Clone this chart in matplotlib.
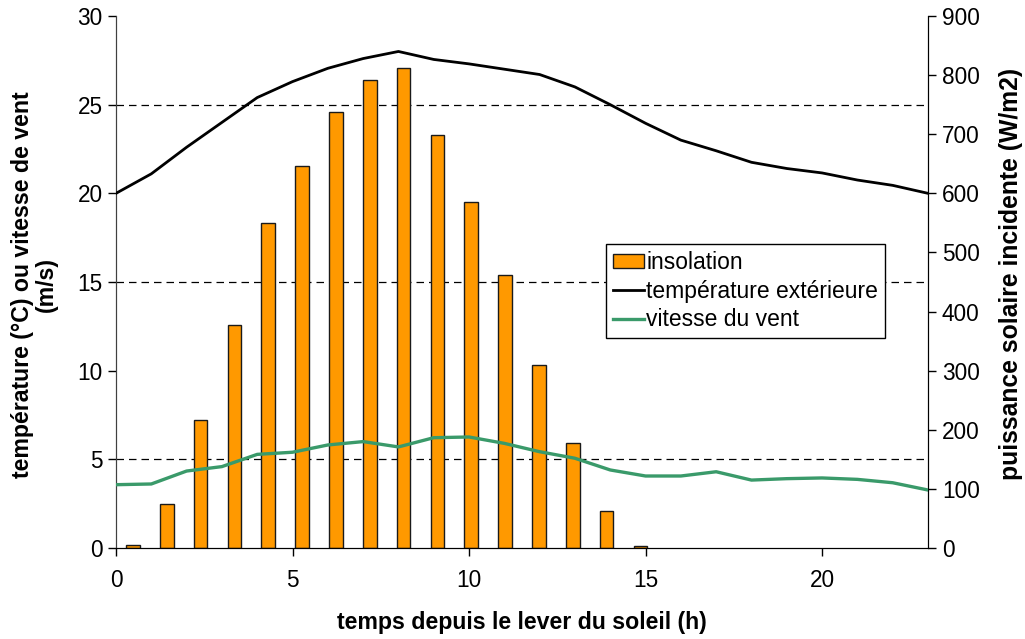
import matplotlib
matplotlib.use("Agg")
import matplotlib.pyplot as plt
from matplotlib.ticker import MultipleLocator
from matplotlib.patches import Patch
from matplotlib.lines import Line2D
import numpy as np

plt.rcParams['font.family'] = ['Liberation Sans', 'DejaVu Sans']

# Hours since sunrise
hours = list(range(24))

# Solar power per hourly slot (W/m2)
insolation = [5, 75, 216, 377, 549, 646, 737, 791, 812, 699, 586, 462,
              310, 177, 63, 4, 0, 0, 0, 0, 0, 0, 0, 0]

# Outside temperature (°C)
temperature = [20.0, 21.1, 22.6, 24.0, 25.4, 26.3, 27.05, 27.6, 28.0, 27.55,
               27.3, 27.0, 26.7, 26.0, 25.0, 23.95, 23.0, 22.4, 21.75, 21.4,
               21.15, 20.75, 20.45, 20.0]

# Wind speed (m/s)
wind = [3.57, 3.61, 4.34, 4.59, 5.28, 5.4, 5.81, 6.0, 5.7, 6.22,
        6.26, 5.9, 5.43, 5.06, 4.4, 4.06, 4.06, 4.3, 3.83, 3.91,
        3.95, 3.87, 3.68, 3.27]

x_max = hours[-1]
n_slots = len(insolation)
slot = x_max / n_slots
bar_pos = (np.arange(n_slots) + 0.5) * slot

fig = plt.figure(figsize=(10.25, 6.39), dpi=100)
ax = fig.add_axes([116 / 1025, 1 - 548 / 639, 812 / 1025, 532 / 639])
ax2 = ax.twinx()

# Bars on the right-hand axis, drawn underneath the lines
ax2.set_zorder(1)
ax.set_zorder(2)
ax.patch.set_visible(False)

bars = ax2.bar(bar_pos, insolation, width=0.4 * slot, color='#FF9900',
               edgecolor='#1a1a1a', linewidth=1.0, zorder=2)
for rect in bars:
    if rect.get_height() == 0:
        rect.set_visible(False)
ax2.set_ylim(0, 900)
ax2.yaxis.set_major_locator(MultipleLocator(100))
ax2.yaxis.set_minor_locator(MultipleLocator(150))
ax2.grid(which='minor', axis='y', linestyle=(0, (6, 4)), color='black', linewidth=0.9)
ax2.set_axisbelow(True)
ax2.tick_params(axis='y', which='minor', length=0)
ax2.tick_params(axis='y', which='major', direction='out', length=6, width=1,
                labelsize=16.3, pad=4)
ax2.set_ylabel('puissance solaire incidente (W/m2)', fontsize=17.8,
               fontweight='bold')
ax2.yaxis.set_label_coords((999 - 116) / 812, 0.515)

ax.plot(hours, temperature, color='black', linewidth=2.0, zorder=4)
ax.plot(hours, wind, color='#3A9A6A', linewidth=2.4, zorder=4)
ax.set_xlim(0, x_max)
ax.set_ylim(0, 30)
ax.yaxis.set_major_locator(MultipleLocator(5))
ax.xaxis.set_major_locator(MultipleLocator(5))
ax.tick_params(axis='both', direction='out', length=6, width=1, labelsize=16.3)
ax.tick_params(axis='x', pad=9)
ax.set_ylabel('température (°C) ou vitesse de vent\n(m/s)', fontsize=16.7,
              fontweight='bold', linespacing=1.05)
ax.yaxis.set_label_coords((58 - 116) / 812, 0.495)
ax.set_xlabel('temps depuis le lever du soleil (h)', fontsize=16.7,
              fontweight='bold')
ax.xaxis.set_label_coords(0.5, -(611 - 548) / 532)

for a in (ax, ax2):
    a.spines['top'].set_visible(False)
    a.spines['left'].set_color('#404040')
    a.spines['right'].set_color('black')
    a.spines['bottom'].set_color('black')

handles = [Patch(facecolor='#FF9900', edgecolor='#1a1a1a', linewidth=1.0),
           Line2D([], [], color='black', linewidth=2.0),
           Line2D([], [], color='#3A9A6A', linewidth=2.4)]
labels = ['insolation', 'température extérieure', 'vitesse du vent']
leg = ax.legend(handles, labels, loc='upper left',
                bbox_to_anchor=((606 - 116) / 812, (548 - 244) / 532),
                fontsize=16.5, frameon=True, fancybox=False, framealpha=1,
                edgecolor='black', borderpad=0.3, labelspacing=0.25,
                handlelength=1.35, handleheight=0.6, handletextpad=0.1,
                borderaxespad=0)
leg.get_frame().set_linewidth(1.0)

fig.savefig('out.png', dpi=100)
